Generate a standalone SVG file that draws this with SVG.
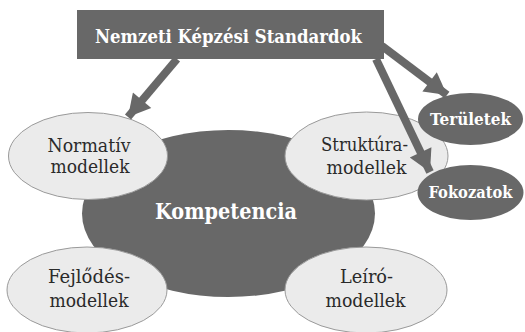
<svg xmlns="http://www.w3.org/2000/svg" width="525" height="332" viewBox="0 0 525 332">
<style>
.dark{fill:#686868;}
.light{fill:#ebebeb;stroke:#9a9a9a;stroke-width:1;}
.conn{stroke:#686868;stroke-width:8;fill:none;}
text{font-family:'DejaVu Serif','Liberation Serif',serif;text-anchor:middle;}
.lbl{font-size:19px;fill:#2a2a2a;}
.wlbl{font-weight:bold;fill:#fff;}
</style>
<defs>
<marker id="ah" markerUnits="userSpaceOnUse" markerWidth="24" markerHeight="24" viewBox="0 0 20 22" refX="20" refY="11" orient="auto">
<path d="M0,0 L20,11 L0,22 Z" fill="#686868"/>
</marker>
</defs>
<rect width="525" height="332" fill="#fff"/>
<g id="kompetencia">
<ellipse class="dark" cx="228.5" cy="213.5" rx="146.5" ry="83.5"/>
<text class="wlbl" x="226" y="219" font-size="22.5" textLength="142" lengthAdjust="spacingAndGlyphs">Kompetencia</text>
</g>
<g id="normativ">
<ellipse class="light" cx="88" cy="156" rx="79.5" ry="43.5"/>
<text class="lbl" x="89" y="151.5" textLength="83" lengthAdjust="spacingAndGlyphs">Normatív</text>
<text class="lbl" x="90" y="173" textLength="79" lengthAdjust="spacingAndGlyphs">modellek</text>
</g>
<g id="struktura">
<ellipse class="light" cx="366.5" cy="156" rx="81.5" ry="44"/>
<text class="lbl" x="364.5" y="151" textLength="87" lengthAdjust="spacingAndGlyphs">Struktúra-</text>
<text class="lbl" x="366.5" y="173.5" textLength="80" lengthAdjust="spacingAndGlyphs">modellek</text>
</g>
<g id="fejlodes">
<ellipse class="light" cx="87" cy="290" rx="80" ry="43"/>
<text class="lbl" x="89" y="283" textLength="82" lengthAdjust="spacingAndGlyphs">Fejlődés-</text>
<text class="lbl" x="89" y="306.5" textLength="79" lengthAdjust="spacingAndGlyphs">modellek</text>
</g>
<g id="leiro">
<ellipse class="light" cx="366" cy="290" rx="81" ry="43"/>
<text class="lbl" x="366.5" y="283" textLength="53" lengthAdjust="spacingAndGlyphs">Leíró-</text>
<text class="lbl" x="365.5" y="306.5" textLength="80" lengthAdjust="spacingAndGlyphs">modellek</text>
</g>
<g id="teruletek">
<ellipse class="dark" cx="470.5" cy="119" rx="52.5" ry="26"/>
<text class="wlbl" x="470.5" y="125" font-size="17.5" textLength="81" lengthAdjust="spacingAndGlyphs">Területek</text>
</g>
<g id="fokozatok">
<ellipse class="dark" cx="470.5" cy="192.5" rx="53" ry="27.5"/>
<text class="wlbl" x="470.5" y="198" font-size="16.5" textLength="84" lengthAdjust="spacingAndGlyphs">Fokozatok</text>
</g>
<g id="nks">
<rect class="dark" x="77" y="10" width="307" height="49"/>
<text class="wlbl" x="228.5" y="43" font-size="19" textLength="267" lengthAdjust="spacingAndGlyphs">Nemzeti Képzési Standardok</text>
</g>
<g id="connectors">
<line class="conn" x1="177" y1="59" x2="128" y2="117" marker-end="url(#ah)"/>
<line class="conn" x1="376" y1="59" x2="430" y2="172" marker-end="url(#ah)"/>
<line class="conn" x1="382" y1="46" x2="447" y2="95" marker-end="url(#ah)"/>
</g>
</svg>
